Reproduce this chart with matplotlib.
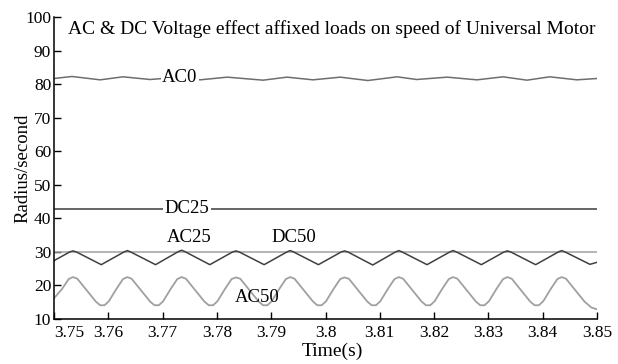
import matplotlib
matplotlib.use("Agg")
import matplotlib.pyplot as plt

plt.rcParams["font.family"] = ["Liberation Serif", "DejaVu Serif"]

# Speed traces of the universal motor (rad/s) over a 0.1 s window
ac0_t = [3.7500, 3.7533, 3.7585, 3.7627, 3.7677, 3.7723, 3.7769, 3.7819,
         3.7885, 3.7929, 3.7977, 3.8027, 3.8078, 3.8132, 3.8168, 3.8224,
         3.8279, 3.8327, 3.8371, 3.8413, 3.8463, 3.8500]
ac0_v = [81.7, 82.3, 81.3, 82.2, 81.4, 82.0, 81.3, 82.1,
         81.2, 82.1, 81.3, 82.1, 81.1, 82.2, 81.4, 82.1,
         81.3, 82.2, 81.2, 82.2, 81.3, 81.7]

dc25_t = [3.75, 3.85]
dc25_v = [42.7, 42.7]

dc50_t = [3.75, 3.85]
dc50_v = [30.0, 30.0]

ac25_t = [3.7500,
          3.7529, 3.7535, 3.7541, 3.7587,
          3.7629, 3.7635, 3.7641, 3.7687,
          3.7729, 3.7735, 3.7741, 3.7787,
          3.7829, 3.7835, 3.7841, 3.7887,
          3.7929, 3.7935, 3.7941, 3.7987,
          3.8029, 3.8035, 3.8041, 3.8087,
          3.8129, 3.8135, 3.8141, 3.8187,
          3.8229, 3.8235, 3.8241, 3.8287,
          3.8329, 3.8335, 3.8341, 3.8387,
          3.8429, 3.8435, 3.8441, 3.8487,
          3.8500]
ac25_v = [27.4,
          30.0, 30.3, 30.0, 26.2,
          30.0, 30.4, 30.0, 26.2,
          30.1, 30.5, 30.1, 26.2,
          30.0, 30.3, 30.0, 26.2,
          30.0, 30.4, 30.0, 26.2,
          30.0, 30.3, 30.0, 26.1,
          30.0, 30.4, 30.0, 26.2,
          30.0, 30.4, 30.0, 26.2,
          30.0, 30.3, 30.0, 26.2,
          30.0, 30.4, 30.0, 26.3,
          26.9]

ac50_t = [3.7500, 3.7515, 3.7527,
          3.7535, 3.7543, 3.7560, 3.7577, 3.7585, 3.7593, 3.7601, 3.7615, 3.7627,
          3.7635, 3.7643, 3.7660, 3.7677, 3.7685, 3.7693, 3.7701, 3.7715, 3.7727,
          3.7735, 3.7743, 3.7760, 3.7777, 3.7785, 3.7793, 3.7801, 3.7815, 3.7827,
          3.7835, 3.7843, 3.7860, 3.7877, 3.7885, 3.7893, 3.7901, 3.7915, 3.7927,
          3.7935, 3.7943, 3.7960, 3.7977, 3.7985, 3.7993, 3.8001, 3.8015, 3.8027,
          3.8035, 3.8043, 3.8060, 3.8077, 3.8085, 3.8093, 3.8101, 3.8115, 3.8127,
          3.8135, 3.8143, 3.8160, 3.8177, 3.8185, 3.8193, 3.8201, 3.8215, 3.8227,
          3.8235, 3.8243, 3.8260, 3.8277, 3.8285, 3.8293, 3.8301, 3.8315, 3.8327,
          3.8335, 3.8343, 3.8360, 3.8377, 3.8385, 3.8393, 3.8401, 3.8415, 3.8427,
          3.8435, 3.8443, 3.8460, 3.8477, 3.8490, 3.8500]
ac50_v = [16.2, 19.0, 21.9,
          22.5, 22.0, 18.6, 15.2, 14.1, 14.1, 15.3, 19.0, 21.9,
          22.5, 22.0, 18.6, 15.2, 14.1, 14.1, 15.3, 19.0, 21.9,
          22.5, 22.0, 18.6, 15.2, 14.1, 14.1, 15.3, 19.0, 21.9,
          22.4, 22.0, 18.6, 15.2, 14.1, 14.1, 15.3, 19.0, 21.9,
          22.5, 22.0, 18.6, 15.2, 14.1, 14.1, 15.3, 19.0, 21.9,
          22.4, 22.0, 18.6, 15.2, 14.1, 14.1, 15.3, 19.0, 21.9,
          22.5, 22.0, 18.6, 15.2, 14.1, 14.1, 15.3, 19.0, 21.9,
          22.5, 22.0, 18.6, 15.2, 14.1, 14.1, 15.3, 19.0, 21.9,
          22.5, 22.0, 18.6, 15.2, 14.1, 14.1, 15.3, 19.0, 21.9,
          22.5, 22.0, 18.6, 15.2, 13.4, 12.9]

x_ticks = [3.75, 3.76, 3.77, 3.78, 3.79, 3.80, 3.81, 3.82, 3.83, 3.84, 3.85]
x_tick_labels = ["3.75", "3.76", "3.77", "3.78", "3.79", "3.8",
                 "3.81", "3.82", "3.83", "3.84", "3.85"]
y_ticks = [10, 20, 30, 40, 50, 60, 70, 80, 90, 100]

fig = plt.figure(figsize=(6.18, 3.64), dpi=100)
ax = fig.add_axes([0.0874, 0.1236, 0.8786, 0.8294])

ax.plot(ac0_t, ac0_v, color="#6e6e6e", lw=1.1)
ax.plot(dc25_t, dc25_v, color="#3c3c3c", lw=1.1)
ax.plot(dc50_t, dc50_v, color="#a0a0a0", lw=1.1)
ax.plot(ac25_t, ac25_v, color="#404040", lw=1.1)
ax.plot(ac50_t, ac50_v, color="#a0a0a0", lw=1.3)

label_kw = dict(fontsize=13.5, ha="center", va="center")
white_box = dict(facecolor="white", edgecolor="none", pad=1.0)
ax.text(3.7732, 82.1, "AC0", bbox=white_box, **label_kw)
ax.text(3.7745, 42.8, "DC25", bbox=white_box, **label_kw)
ax.text(3.7749, 34.2, "AC25", **label_kw)
ax.text(3.7942, 34.2, "DC50", **label_kw)
ax.text(3.7874, 16.3, "AC50", **label_kw)

ax.text(0.512, 0.962, "AC & DC Voltage effect affixed loads on speed of Universal Motor",
        transform=ax.transAxes, ha="center", va="center", fontsize=14)

ax.set_xlim(3.75, 3.85)
ax.set_ylim(10, 100)
ax.set_xticks(x_ticks)
ax.set_xticklabels(x_tick_labels)
ax.set_yticks(y_ticks)
ax.tick_params(direction="in", length=5, width=1, labelsize=12.5)
ax.tick_params(axis="x", pad=4)
ax.tick_params(axis="y", pad=2)
ax.get_xticklabels()[0].set_horizontalalignment("left")
ax.spines["top"].set_visible(False)
ax.spines["right"].set_visible(False)
for s in ("left", "bottom"):
    ax.spines[s].set_linewidth(1.1)

ax.set_xlabel("Time(s)", fontsize=14)
ax.set_ylabel("Radius/second", fontsize=13.5)
ax.xaxis.set_label_coords(0.512, -0.08)
ax.yaxis.set_label_coords(-0.042, 0.5)

fig.savefig("out.png", dpi=100)
